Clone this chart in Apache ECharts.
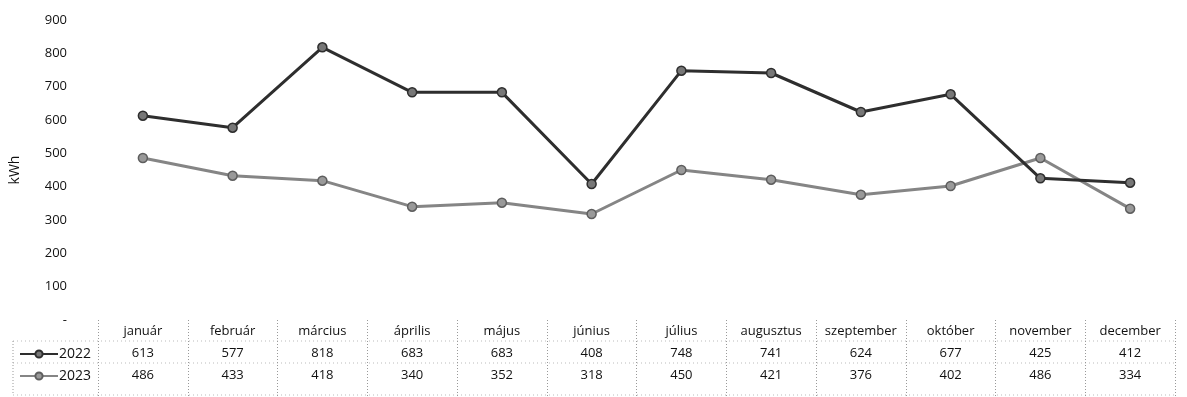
<!DOCTYPE html>
<html>
<head>
<meta charset="utf-8">
<script src="https://cdn.jsdelivr.net/npm/echarts@6/dist/echarts.min.js"></script>
<style>
  html, body { margin: 0; padding: 0; background: #fff; }
  #chart { width: 1187px; height: 397px; }
</style>
</head>
<body>
<div id="chart"></div>
<script>
// Monthly consumption, kWh
const months = ['január', 'február', 'március', 'április', 'május', 'június',
  'július', 'augusztus', 'szeptember', 'október', 'november', 'december'];
const values2022 = [613, 577, 818, 683, 683, 408, 748, 741, 624, 677, 425, 412];
const values2023 = [486, 433, 418, 340, 352, 318, 450, 421, 376, 402, 486, 334];
const seriesNames = ['2022', '2023'];
const yTicks = { min: 0, max: 900, interval: 100 };

const FONT = '"Open Sans", "Noto Sans", sans-serif';
const txt = { fontFamily: FONT, fontSize: 13, color: '#111' };

const chart = echarts.init(document.getElementById('chart'), null, { renderer: 'canvas' });

// One extra category axis per data-table row below the plot
function tableAxis(offset, labelFn, showTicks) {
  return {
    type: 'category',
    data: months,
    position: 'bottom',
    offset: offset,
    boundaryGap: true,
    axisLine: { show: false },
    axisTick: showTicks ? {
      show: true, inside: false, length: 77, interval: 0,
      lineStyle: { color: '#999', type: [1, 2], width: 1 }
    } : { show: false },
    axisLabel: Object.assign({ margin: 5, interval: 0, formatter: labelFn }, txt),
    splitLine: { show: false }
  };
}

chart.setOption({
  animation: false,
  backgroundColor: '#fff',
  grid: { left: 95, right: 12, top: 20, bottom: 77 },
  legend: {
    orient: 'vertical',
    left: 14,
    top: 342,
    itemGap: 8,
    itemWidth: 38,
    itemHeight: 9,
    data: seriesNames,
    textStyle: { fontFamily: FONT, fontSize: 14, color: '#111', padding: [0, 0, 0, -4] }
  },
  graphic: [
    // faint dotted rulings of the data table
    { type: 'line', shape: { x1: 13, y1: 341, x2: 1175, y2: 341 }, style: { stroke: '#bbb', lineDash: [1, 3] } },
    { type: 'line', shape: { x1: 13, y1: 363, x2: 1175, y2: 363 }, style: { stroke: '#bbb', lineDash: [1, 3] } },
    { type: 'line', shape: { x1: 13, y1: 395, x2: 1175, y2: 395 }, style: { stroke: '#bbb', lineDash: [1, 3] } },
    { type: 'line', shape: { x1: 13, y1: 341, x2: 13, y2: 395 }, style: { stroke: '#999', lineDash: [1, 2] } }
  ],
  xAxis: [
    tableAxis(0, (v) => v, true),
    tableAxis(22, (v, i) => String(values2022[i]), false),
    tableAxis(44, (v, i) => String(values2023[i]), false)
  ],
  yAxis: {
    type: 'value',
    min: yTicks.min,
    max: yTicks.max,
    interval: yTicks.interval,
    name: 'kWh',
    nameLocation: 'middle',
    nameGap: 76,
    nameRotate: 90,
    nameTextStyle: { fontFamily: FONT, fontSize: 14, color: '#111' },
    axisLine: { show: false },
    axisTick: { show: false },
    splitLine: { show: false },
    axisLabel: Object.assign({
      margin: 31,
      formatter: (v) => (v === 0 ? '-' : String(v))
    }, txt)
  },
  series: [
    {
      name: seriesNames[0],
      type: 'line',
      data: values2022,
      symbol: 'circle',
      symbolSize: 9,
      lineStyle: { color: '#2e2e2e', width: 3 },
      itemStyle: { color: '#777', borderColor: '#2e2e2e', borderWidth: 1.5 },
      z: 3
    },
    {
      name: seriesNames[1],
      type: 'line',
      data: values2023,
      symbol: 'circle',
      symbolSize: 9,
      lineStyle: { color: '#858585', width: 3 },
      itemStyle: { color: '#999', borderColor: '#5e5e5e', borderWidth: 1.5 },
      z: 2
    }
  ]
});
</script>
</body>
</html>
